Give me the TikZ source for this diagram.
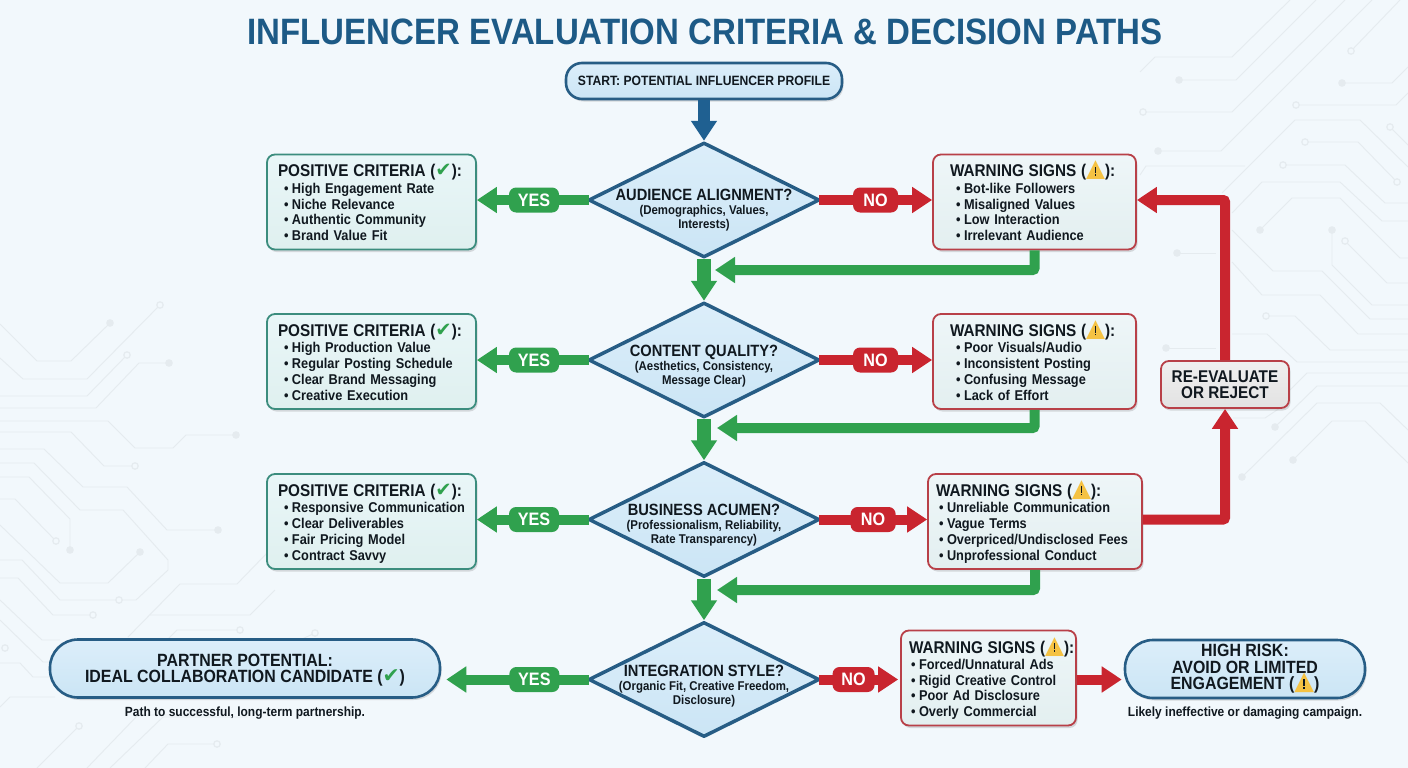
\documentclass[tikz,border=0pt]{standalone}
\usepackage{fontspec}
\usepackage{graphicx}
\setmainfont{Liberation Sans}[FakeStretch=0.9]
\newfontfamily\symbolfont{DejaVu Sans}
\usetikzlibrary{arrows.meta,
	shapes.geometric,
	shadows}

\definecolor{bgblue}{HTML}{F2F8FC}
\definecolor{tracegray}{HTML}{E5EBEF}
\definecolor{titleblue}{HTML}{1D5A86}
\definecolor{flowblue}{HTML}{1F6091}
\definecolor{edgeblue}{HTML}{275D85}
\definecolor{yesgreen}{HTML}{30A14E}
\definecolor{nored}{HTML}{C9252F}
\definecolor{edgeteal}{HTML}{3C8D7E}
\definecolor{edgered}{HTML}{B84048}
\definecolor{inkblack}{HTML}{10181F}
\definecolor{warnyellow}{HTML}{F5C243}
\definecolor{postop}{HTML}{E9F6F8}
\definecolor{posbottom}{HTML}{DFF0EF}
\definecolor{warntop}{HTML}{EEF6F8}
\definecolor{warnbottom}{HTML}{E3EFF0}
\definecolor{bluetop}{HTML}{DCEEFA}
\definecolor{bluebottom}{HTML}{CBE5F5}
\definecolor{greytop}{HTML}{F0F0F0}
\definecolor{greybottom}{HTML}{E2E2E2}

\newcommand{\okmark}{{\symbolfont\color{yesgreen}\scalebox{1.15}{✔}}}
\newcommand{\warnmark}{\smash{\ooalign{\hfil{\symbolfont\color{warnyellow}\scalebox{1.45}{▲}}\hfil\cr\hfil\rule[0.22em]{0.1em}{0.37em}\hfil\cr\hfil\rule[0.06em]{0.1em}{0.11em}\hfil\cr}}}
\newcommand{\critlist}[5]{%
	\\[0.8pt]\mbox{\strut\hspace*{#1}\makebox[8pt][l]{\textbullet}#2}%
	\\\mbox{\strut\hspace*{#1}\makebox[8pt][l]{\textbullet}#3}%
	\\\mbox{\strut\hspace*{#1}\makebox[8pt][l]{\textbullet}#4}%
	\\\mbox{\strut\hspace*{#1}\makebox[8pt][l]{\textbullet}#5}}
\newcommand{\postitle}{\mbox{\rule[-4pt]{0pt}{22.3pt}\fontsize{17}{16}\selectfont POSITIVE CRITERIA (\okmark):}}
\newcommand{\warntitle}{\mbox{\rule[-4pt]{0pt}{22.3pt}\fontsize{17}{16}\selectfont WARNING SIGNS (\warnmark):}}

\tikzset{
	basebox/.style={rounded corners=8pt, inner ysep=0pt, font=\bfseries\fontsize{14.2}{15.7}\selectfont, text=inkblack,
		drop shadow={shadow xshift=1.5pt, shadow yshift=-2.5pt, opacity=0.22, fill=black!60}},
	posbox/.style={basebox, draw=edgeteal, line width=1.8pt, top color=postop, bottom color=posbottom, align=left, minimum height=95pt},
	warnbox/.style={basebox, draw=edgered, line width=1.8pt, top color=warntop, bottom color=warnbottom, align=left, minimum height=95pt},
	endbox/.style={basebox, rounded corners=28pt, draw=edgeblue, line width=2.6pt, top color=bluetop, bottom color=bluebottom,
		align=center, minimum height=58pt, font=\bfseries\fontsize{17.7}{16.5}\selectfont},
	decision/.style={diamond, aspect=2, inner sep=0pt, minimum width=231pt, minimum height=115pt, draw=edgeblue, line width=3.5pt,
		line join=round, top color=bluetop, bottom color=bluebottom},
	qtext/.style={align=center, text=inkblack, inner sep=0pt, font=\bfseries\fontsize{12.7}{14}\selectfont},
	yespill/.style={rounded corners=7pt, fill=yesgreen, text=white, minimum width=50pt, minimum height=25pt, inner sep=0pt, font=\bfseries\fontsize{18}{18}\selectfont},
	nopill/.style={yespill, fill=nored, minimum width=45pt},
	flowline/.style={line width=10pt, rounded corners=2pt, -{Triangle[length=20pt,width=25pt]}},
	yesline/.style={flowline, draw=yesgreen},
	noline/.style={flowline, draw=nored},
	trace/.style={draw=tracegray, line width=0.9pt},
	tracedot/.style={fill=tracegray},
	traceopen/.style={draw=tracegray, line width=1.2pt, fill=bgblue},
	caption/.style={inner sep=0pt, text=inkblack, font=\bfseries\fontsize{13.3}{14}\selectfont}
}

\begin{document}
\begin{tikzpicture}[x=1pt, y=-1pt]
	\useasboundingbox (0, 0) rectangle (1408, 768);
	\fill[bgblue] (0, 0) rectangle (1408, 768);

	% circuit traces, left side
	\draw[trace] (0, 324) -- (37, 361) -- (71, 361) -- (110, 323);
	\draw[trace] (0, 358) -- (23, 379) -- (87, 379) -- (160, 305);
	\draw[trace] (0, 396) -- (87, 396) -- (127, 355);
	\draw[trace] (0, 408) -- (96, 408) -- (139, 363) -- (169, 363);
	\draw[trace] (0, 421) -- (108, 421) -- (135, 448) -- (173, 448) -- (186, 435) -- (236, 435);
	\draw[trace] (0, 432) -- (71, 432) -- (104, 466) -- (135, 466);
	\draw[trace] (0, 449) -- (44, 449) -- (83, 487) -- (127, 487) -- (167, 530) -- (218, 530);
	\draw[trace] (0, 463) -- (34, 463) -- (80, 510) -- (123, 510) -- (168, 560) -- (168, 570) -- (136, 600) -- (60, 600) -- (22, 560) -- (0, 560);
	\draw[trace] (0, 477) -- (29, 477) -- (70, 519) -- (70, 550);
	\draw[trace] (0, 499) -- (15, 499) -- (56, 541);
	\draw[trace] (0, 525) -- (60, 583) -- (108, 583) -- (140, 552);
	\draw[trace] (0, 578) -- (18, 578) -- (53, 615) -- (93, 615);
	\draw[trace] (128, 637) -- (180, 584) -- (237, 584) -- (270, 550);
	\draw[trace] (150, 615) -- (250, 615) -- (275, 590);
	\draw[trace] (0, 600) -- (42, 640) -- (60, 640);
	\draw[trace] (0, 620) -- (43, 662) -- (55, 662);
	\draw[trace] (0, 663) -- (20, 663) -- (33, 677) -- (55, 677);
	\draw[trace] (0, 707) -- (10, 697) -- (55, 697);
	\draw[trace] (167, 640) -- (177, 630) -- (240, 630);
	\draw[trace] (300, 640) -- (315, 633);
	\draw[trace] (37, 768) -- (79, 726);
	\draw[trace] (87, 768) -- (138, 715) -- (197, 715);
	\draw[trace] (110, 768) -- (163, 717) -- (247, 717);
	\draw[trace] (145, 768) -- (168, 744) -- (217, 744);
	% circuit traces, right side
	\draw[trace] (1140, 72) -- (1155, 57) -- (1232, 57) -- (1290, 0);
	\draw[trace] (1179, 80) -- (1236, 80) -- (1316, 0);
	\draw[trace] (1143, 112) -- (1232, 112) -- (1345, 0);
	\draw[trace] (1158, 151) -- (1221, 151) -- (1372, 0);
	\draw[trace] (1351, 51) -- (1400, 0);
	\draw[trace] (1342, 83) -- (1392, 83) -- (1408, 67);
	\draw[trace] (1296, 105) -- (1396, 105) -- (1408, 93);
	\draw[trace] (1140, 175) -- (1146, 166) -- (1245, 166);
	\draw[trace] (1222, 193) -- (1295, 120) -- (1360, 120) -- (1408, 167);
	\draw[trace] (1305, 142) -- (1358, 142) -- (1397, 182);
	\draw[trace] (1283, 165) -- (1345, 165) -- (1385, 203) -- (1408, 203);
	\draw[trace] (1232, 213) -- (1262, 182) -- (1340, 182) -- (1382, 221) -- (1408, 221);
	\draw[trace] (1260, 230) -- (1292, 198) -- (1340, 198) -- (1400, 258) -- (1408, 258);
	\draw[trace] (1390, 127) -- (1408, 145);
	\draw[trace] (1332, 230) -- (1332, 265) -- (1372, 305) -- (1408, 305);
	\draw[trace] (1345, 241) -- (1387, 283) -- (1408, 283);
	\draw[trace] (1232, 230) -- (1273, 271) -- (1322, 271) -- (1370, 319) -- (1408, 319);
	\draw[trace] (1232, 262) -- (1262, 295) -- (1320, 295) -- (1358, 334) -- (1408, 334);
	\draw[trace] (1266, 316) -- (1295, 316) -- (1330, 350) -- (1408, 350);
	\draw[trace] (1177, 253) -- (1216, 253);
	\draw[trace] (1166, 348) -- (1216, 348);
	\draw[trace] (1232, 334) -- (1267, 334) -- (1297, 362) -- (1408, 362);
	\draw[trace] (1290, 390) -- (1307, 373) -- (1408, 373);
	\draw[trace] (1275, 427) -- (1317, 386) -- (1408, 386);
	\draw[trace] (1242, 477) -- (1317, 403) -- (1380, 403) -- (1408, 430);
	\draw[trace] (1293, 460) -- (1332, 421) -- (1365, 421) -- (1408, 463);
	\draw[trace] (1233, 418) -- (1265, 418) -- (1280, 408);
	\foreach \x/\y in {110/323, 169/363, 236/435, 218/530, 70/550, 140/552, 1179/80, 1158/151, 1342/83, 1260/230, 1332/230, 1177/253, 1166/348, 1275/427, 1242/477, 1293/460}
		\fill[tracedot] (\x, \y) circle (3.8);
	\foreach \x/\y in {160/305, 127/355, 135/466, 56/541, 93/615, 119/600, 5/648, 79/726, 217/744, 240/630, 315/633, 1143/112, 1351/51, 1296/105, 1390/127, 1305/142, 1397/182, 1283/165, 1345/241, 1266/316}
		\filldraw[traceopen] (\x, \y) circle (3.2);

	\node[inner sep=0pt, text=titleblue, font=\bfseries\fontsize{36.7}{36}\selectfont] (title) at (705, 32) {INFLUENCER EVALUATION CRITERIA \& DECISION PATHS};

	\node[basebox, rounded corners=16pt, draw=edgeblue, line width=2.6pt, top color=bluetop, bottom color=bluebottom, minimum width=276pt, minimum height=36pt, font=\bfseries\fontsize{13.5}{14}\selectfont] (start) at (704, 81) {START: POTENTIAL INFLUENCER PROFILE};

	% decisions
	\node[decision] (d1) at (704, 200) {};
	\node[decision] (d2) at (704, 360) {};
	\node[decision] (d3) at (704, 519.5) {};
	\node[decision] (d4) at (704, 679.5) {};
	\node[qtext] (q1) at (704, 210.5) {{\fontsize{16.3}{16}\selectfont AUDIENCE ALIGNMENT?}\\(Demographics, Values,\\Interests)};
	\node[qtext] (q2) at (704, 366) {{\fontsize{16.3}{16}\selectfont CONTENT QUALITY?}\\(Aesthetics, Consistency,\\Message Clear)};
	\node[qtext] (q3) at (704, 525) {{\fontsize{16.3}{16}\selectfont BUSINESS ACUMEN?}\\(Professionalism, Reliability,\\Rate Transparency)};
	\node[qtext] (q4) at (704, 686) {{\fontsize{16.3}{16}\selectfont INTEGRATION STYLE?}\\(Organic Fit, Creative Freedom,\\Disclosure)};

	% positive side
	\node[posbox, text width=187pt, inner xsep=11pt] (pos1) at (371.5, 202) {\postitle\critlist{6pt}{High Engagement Rate}{Niche Relevance}{Authentic Community}{Brand Value Fit}};
	\node[posbox, text width=187pt, inner xsep=11pt] (pos2) at (371.5, 361.5) {\postitle\critlist{6pt}{High Production Value}{Regular Posting Schedule}{Clear Brand Messaging}{Creative Execution}};
	\node[posbox, text width=187pt, inner xsep=11pt] (pos3) at (371.5, 521.5) {\postitle\critlist{6pt}{Responsive Communication}{Clear Deliverables}{Fair Pricing Model}{Contract Savvy}};

	% warning side
	\node[warnbox, text width=169pt, inner xsep=17pt] (warn1) at (1034.5, 202) {\warntitle\critlist{6pt}{Bot-like Followers}{Misaligned Values}{Low Interaction}{Irrelevant Audience}};
	\node[warnbox, text width=169pt, inner xsep=17pt] (warn2) at (1034.5, 361.5) {\warntitle\critlist{6pt}{Poor Visuals/Audio}{Inconsistent Posting}{Confusing Message}{Lack of Effort}};
	\node[warnbox, text width=198pt, inner xsep=8pt] (warn3) at (1035, 521.5) {\warntitle\critlist{3pt}{Unreliable Communication}{Vague Terms}{Overpriced/Undisclosed Fees}{Unprofessional Conduct}};
	\node[warnbox, text width=159pt, inner xsep=8pt] (warn4) at (988.5, 678) {\warntitle\critlist{2pt}{Forced/Unnatural Ads}{Rigid Creative Control}{Poor Ad Disclosure}{Overly Commercial}};

	\node[basebox, draw=edgered, line width=1.8pt, top color=greytop, bottom color=greybottom, minimum width=128pt, minimum height=47pt, align=center, font=\bfseries\fontsize{17}{16.5}\selectfont] (reeval) at (1225, 384.5) {RE-EVALUATE\\OR REJECT};

	% end points
	\node[endbox, minimum width=390pt] (partner) at (245, 668.5) {\rule{0pt}{15.8pt}PARTNER POTENTIAL:\\IDEAL COLLABORATION CANDIDATE (\okmark)};
	\node[endbox, minimum width=240pt] (risk) at (1245, 669) {HIGH RISK:\\AVOID OR LIMITED\\ENGAGEMENT (\warnmark)};
	\node[caption] (partnernote) at (245, 713.5) {Path to successful, long-term partnership.};
	\node[caption] (risknote) at (1245, 713.5) {Likely ineffective or damaging campaign.};

	% down the middle
	\draw[flowline, draw=flowblue, line width=12pt] (start.south) -- (d1.north);
	\draw[yesline, line width=14pt] (d1.south) -- (d2.north);
	\draw[yesline, line width=14pt] (d2.south) -- (d3.north);
	\draw[yesline, line width=14pt] (d3.south) -- (d4.north);

	% yes and no branches
	\foreach \i in {1,2,3} {
		\draw[yesline, shorten <=-2pt] (d\i.west) -- node[yespill, pos=0.48] (yes\i) {YES} (d\i.west -| pos\i.east);
		\draw[noline, shorten <=-2pt] (d\i.east) -- node[nopill, pos=0.49] (no\i) {NO} (d\i.east -| warn\i.west);
	}
	\draw[yesline, shorten <=-2pt, shorten >=5pt] (d4.west) -- node[yespill, pos=0.36] (yes4) {YES} (d4.west -| partner.east);
	\draw[noline, shorten <=-2pt, shorten >=2pt] (d4.east) -- node[nopill, pos=0.41, minimum width=42pt] (no4) {NO} (d4.east -| warn4.west);
	\draw[noline, shorten >=2pt] (warn4.east |- d4.east) -- (d4.east -| risk.west);

	% back to the middle
	\coordinate (back1) at (715, 270);
	\coordinate (back2) at (717, 428);
	\coordinate (back3) at (717, 590);
	\draw[yesline] (warn1.south) |- (back1);
	\draw[yesline] (warn2.south) |- (back2);
	\draw[yesline] (warn3.south) |- (back3);

	% re-evaluation loop
	\draw[noline] (warn3.east |- d3.east) -| (reeval.south);
	\draw[noline] (reeval.north) |- (warn1.east |- d1.east);
\end{tikzpicture}
\end{document}
